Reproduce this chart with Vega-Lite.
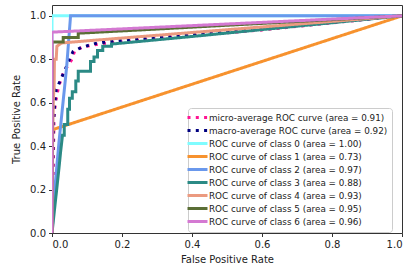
{
  "$schema": "https://vega.github.io/schema/vega-lite/v6.json",
  "width": 350,
  "height": 228,
  "autosize": "none",
  "padding": {"left": 52, "top": 5, "right": 7, "bottom": 37},
  "config": {
    "font": "DejaVu Sans",
    "view": {"stroke": "#333", "strokeWidth": 1},
    "axis": {"grid": false, "domain": false, "tickColor": "#333", "tickSize": 3.5, "labelFontSize": 10, "labelColor": "#222", "titleFontSize": 10, "titleFontWeight": "normal", "titleColor": "#222", "labelPadding": 3}
  },
  "data": {"values": [
    {"s": "micro-average ROC curve (area = 0.91)", "i": 0, "x": 0, "y": 0},
    {"s": "micro-average ROC curve (area = 0.91)", "i": 1, "x": 0.003, "y": 0.25},
    {"s": "micro-average ROC curve (area = 0.91)", "i": 2, "x": 0.005, "y": 0.45},
    {"s": "micro-average ROC curve (area = 0.91)", "i": 3, "x": 0.006, "y": 0.54},
    {"s": "micro-average ROC curve (area = 0.91)", "i": 4, "x": 0.01, "y": 0.6},
    {"s": "micro-average ROC curve (area = 0.91)", "i": 5, "x": 0.019, "y": 0.675},
    {"s": "micro-average ROC curve (area = 0.91)", "i": 6, "x": 0.033, "y": 0.74},
    {"s": "micro-average ROC curve (area = 0.91)", "i": 7, "x": 0.045, "y": 0.77},
    {"s": "micro-average ROC curve (area = 0.91)", "i": 8, "x": 0.057, "y": 0.8},
    {"s": "micro-average ROC curve (area = 0.91)", "i": 9, "x": 0.065, "y": 0.84},
    {"s": "micro-average ROC curve (area = 0.91)", "i": 10, "x": 0.09, "y": 0.858},
    {"s": "micro-average ROC curve (area = 0.91)", "i": 11, "x": 0.14, "y": 0.872},
    {"s": "micro-average ROC curve (area = 0.91)", "i": 12, "x": 0.3, "y": 0.895},
    {"s": "micro-average ROC curve (area = 0.91)", "i": 13, "x": 0.6, "y": 0.935},
    {"s": "micro-average ROC curve (area = 0.91)", "i": 14, "x": 1, "y": 1},
    {"s": "macro-average ROC curve (area = 0.92)", "i": 0, "x": 0, "y": 0},
    {"s": "macro-average ROC curve (area = 0.92)", "i": 1, "x": 0.002, "y": 0.3},
    {"s": "macro-average ROC curve (area = 0.92)", "i": 2, "x": 0.004, "y": 0.5},
    {"s": "macro-average ROC curve (area = 0.92)", "i": 3, "x": 0.008, "y": 0.6},
    {"s": "macro-average ROC curve (area = 0.92)", "i": 4, "x": 0.012, "y": 0.66},
    {"s": "macro-average ROC curve (area = 0.92)", "i": 5, "x": 0.023, "y": 0.7},
    {"s": "macro-average ROC curve (area = 0.92)", "i": 6, "x": 0.037, "y": 0.75},
    {"s": "macro-average ROC curve (area = 0.92)", "i": 7, "x": 0.05, "y": 0.8},
    {"s": "macro-average ROC curve (area = 0.92)", "i": 8, "x": 0.06, "y": 0.835},
    {"s": "macro-average ROC curve (area = 0.92)", "i": 9, "x": 0.084, "y": 0.855},
    {"s": "macro-average ROC curve (area = 0.92)", "i": 10, "x": 0.122, "y": 0.872},
    {"s": "macro-average ROC curve (area = 0.92)", "i": 11, "x": 0.165, "y": 0.882},
    {"s": "macro-average ROC curve (area = 0.92)", "i": 12, "x": 0.22, "y": 0.89},
    {"s": "macro-average ROC curve (area = 0.92)", "i": 13, "x": 0.56, "y": 0.935},
    {"s": "macro-average ROC curve (area = 0.92)", "i": 14, "x": 1, "y": 1},
    {"s": "ROC curve of class 0 (area = 1.00)", "i": 0, "x": 0, "y": 0},
    {"s": "ROC curve of class 0 (area = 1.00)", "i": 1, "x": 0, "y": 1},
    {"s": "ROC curve of class 0 (area = 1.00)", "i": 2, "x": 1, "y": 1},
    {"s": "ROC curve of class 1 (area = 0.73)", "i": 0, "x": 0, "y": 0},
    {"s": "ROC curve of class 1 (area = 0.73)", "i": 1, "x": 0, "y": 0.475},
    {"s": "ROC curve of class 1 (area = 0.73)", "i": 2, "x": 1, "y": 1},
    {"s": "ROC curve of class 2 (area = 0.97)", "i": 0, "x": 0, "y": 0},
    {"s": "ROC curve of class 2 (area = 0.97)", "i": 1, "x": 0.008, "y": 0.2},
    {"s": "ROC curve of class 2 (area = 0.97)", "i": 2, "x": 0.02, "y": 0.42},
    {"s": "ROC curve of class 2 (area = 0.97)", "i": 3, "x": 0.042, "y": 0.767},
    {"s": "ROC curve of class 2 (area = 0.97)", "i": 4, "x": 0.053, "y": 1},
    {"s": "ROC curve of class 2 (area = 0.97)", "i": 5, "x": 1, "y": 1},
    {"s": "ROC curve of class 3 (area = 0.88)", "i": 0, "x": 0, "y": 0},
    {"s": "ROC curve of class 3 (area = 0.88)", "i": 1, "x": 0.01, "y": 0.15},
    {"s": "ROC curve of class 3 (area = 0.88)", "i": 2, "x": 0.02, "y": 0.3},
    {"s": "ROC curve of class 3 (area = 0.88)", "i": 3, "x": 0.025, "y": 0.38},
    {"s": "ROC curve of class 3 (area = 0.88)", "i": 4, "x": 0.03, "y": 0.45},
    {"s": "ROC curve of class 3 (area = 0.88)", "i": 5, "x": 0.035, "y": 0.45},
    {"s": "ROC curve of class 3 (area = 0.88)", "i": 6, "x": 0.035, "y": 0.5},
    {"s": "ROC curve of class 3 (area = 0.88)", "i": 7, "x": 0.045, "y": 0.5},
    {"s": "ROC curve of class 3 (area = 0.88)", "i": 8, "x": 0.045, "y": 0.57},
    {"s": "ROC curve of class 3 (area = 0.88)", "i": 9, "x": 0.05, "y": 0.57},
    {"s": "ROC curve of class 3 (area = 0.88)", "i": 10, "x": 0.05, "y": 0.62},
    {"s": "ROC curve of class 3 (area = 0.88)", "i": 11, "x": 0.058, "y": 0.62},
    {"s": "ROC curve of class 3 (area = 0.88)", "i": 12, "x": 0.058, "y": 0.65},
    {"s": "ROC curve of class 3 (area = 0.88)", "i": 13, "x": 0.068, "y": 0.65},
    {"s": "ROC curve of class 3 (area = 0.88)", "i": 14, "x": 0.068, "y": 0.7},
    {"s": "ROC curve of class 3 (area = 0.88)", "i": 15, "x": 0.075, "y": 0.7},
    {"s": "ROC curve of class 3 (area = 0.88)", "i": 16, "x": 0.075, "y": 0.745},
    {"s": "ROC curve of class 3 (area = 0.88)", "i": 17, "x": 0.11, "y": 0.745},
    {"s": "ROC curve of class 3 (area = 0.88)", "i": 18, "x": 0.11, "y": 0.79},
    {"s": "ROC curve of class 3 (area = 0.88)", "i": 19, "x": 0.12, "y": 0.79},
    {"s": "ROC curve of class 3 (area = 0.88)", "i": 20, "x": 0.12, "y": 0.81},
    {"s": "ROC curve of class 3 (area = 0.88)", "i": 21, "x": 0.13, "y": 0.81},
    {"s": "ROC curve of class 3 (area = 0.88)", "i": 22, "x": 0.13, "y": 0.84},
    {"s": "ROC curve of class 3 (area = 0.88)", "i": 23, "x": 0.145, "y": 0.84},
    {"s": "ROC curve of class 3 (area = 0.88)", "i": 24, "x": 0.145, "y": 0.86},
    {"s": "ROC curve of class 3 (area = 0.88)", "i": 25, "x": 0.17, "y": 0.86},
    {"s": "ROC curve of class 3 (area = 0.88)", "i": 26, "x": 0.17, "y": 0.87},
    {"s": "ROC curve of class 3 (area = 0.88)", "i": 27, "x": 0.4, "y": 0.905},
    {"s": "ROC curve of class 3 (area = 0.88)", "i": 28, "x": 1, "y": 1},
    {"s": "ROC curve of class 4 (area = 0.93)", "i": 0, "x": 0, "y": 0},
    {"s": "ROC curve of class 4 (area = 0.93)", "i": 1, "x": 0.002, "y": 0.45},
    {"s": "ROC curve of class 4 (area = 0.93)", "i": 2, "x": 0.004, "y": 0.62},
    {"s": "ROC curve of class 4 (area = 0.93)", "i": 3, "x": 0.006, "y": 0.67},
    {"s": "ROC curve of class 4 (area = 0.93)", "i": 4, "x": 0.007, "y": 0.8},
    {"s": "ROC curve of class 4 (area = 0.93)", "i": 5, "x": 0.012, "y": 0.8},
    {"s": "ROC curve of class 4 (area = 0.93)", "i": 6, "x": 0.014, "y": 0.86},
    {"s": "ROC curve of class 4 (area = 0.93)", "i": 7, "x": 0.027, "y": 0.875},
    {"s": "ROC curve of class 4 (area = 0.93)", "i": 8, "x": 0.1, "y": 0.885},
    {"s": "ROC curve of class 4 (area = 0.93)", "i": 9, "x": 1, "y": 1},
    {"s": "ROC curve of class 5 (area = 0.95)", "i": 0, "x": 0, "y": 0},
    {"s": "ROC curve of class 5 (area = 0.95)", "i": 1, "x": 0, "y": 0.88},
    {"s": "ROC curve of class 5 (area = 0.95)", "i": 2, "x": 0.032, "y": 0.88},
    {"s": "ROC curve of class 5 (area = 0.95)", "i": 3, "x": 0.032, "y": 0.9},
    {"s": "ROC curve of class 5 (area = 0.95)", "i": 4, "x": 0.075, "y": 0.9},
    {"s": "ROC curve of class 5 (area = 0.95)", "i": 5, "x": 0.075, "y": 0.92},
    {"s": "ROC curve of class 5 (area = 0.95)", "i": 6, "x": 0.25, "y": 0.935},
    {"s": "ROC curve of class 5 (area = 0.95)", "i": 7, "x": 1, "y": 1},
    {"s": "ROC curve of class 6 (area = 0.96)", "i": 0, "x": 0, "y": 0},
    {"s": "ROC curve of class 6 (area = 0.96)", "i": 1, "x": 0, "y": 0.925},
    {"s": "ROC curve of class 6 (area = 0.96)", "i": 2, "x": 1, "y": 1}
  ]},
  "mark": {"type": "line", "clip": true, "strokeCap": "butt"},
  "encoding": {
    "x": {"field": "x", "type": "quantitative", "scale": {"domain": [0, 1], "nice": false}, "axis": {"values": [0, 0.2, 0.4, 0.6, 0.8, 1.0], "format": ".1f", "title": "False Positive Rate", "titlePadding": 5}},
    "y": {"field": "y", "type": "quantitative", "scale": {"domain": [0, 1.05], "nice": false, "zero": false}, "axis": {"values": [0, 0.2, 0.4, 0.6, 0.8, 1.0], "format": ".1f", "title": "True Positive Rate", "titlePadding": 8}},
    "order": {"field": "i", "type": "quantitative"},
    "color": {"field": "s", "type": "nominal", "scale": {
      "domain": ["micro-average ROC curve (area = 0.91)", "macro-average ROC curve (area = 0.92)", "ROC curve of class 0 (area = 1.00)", "ROC curve of class 1 (area = 0.73)", "ROC curve of class 2 (area = 0.97)", "ROC curve of class 3 (area = 0.88)", "ROC curve of class 4 (area = 0.93)", "ROC curve of class 5 (area = 0.95)", "ROC curve of class 6 (area = 0.96)"],
      "range": ["#ff1493", "#000080", "#7ffcff", "#f7922e", "#6a98ec", "#2b8a85", "#eb9a80", "#5a6e35", "#d479d2"]},
      "legend": {"title": null, "orient": "none", "legendX": 136, "legendY": 103, "labelFontSize": 8.8, "labelLimit": 300, "symbolType": "M-2.5,0H2.5", "symbolSize": 64, "fillColor": "white", "strokeColor": "#ccc", "cornerRadius": 3, "padding": 4, "rowPadding": 0, "labelOffset": 6, "labelColor": "#222"}},
    "strokeDash": {"field": "s", "type": "nominal", "scale": {
      "domain": ["micro-average ROC curve (area = 0.91)", "macro-average ROC curve (area = 0.92)", "ROC curve of class 0 (area = 1.00)", "ROC curve of class 1 (area = 0.73)", "ROC curve of class 2 (area = 0.97)", "ROC curve of class 3 (area = 0.88)", "ROC curve of class 4 (area = 0.93)", "ROC curve of class 5 (area = 0.95)", "ROC curve of class 6 (area = 0.96)"],
      "range": [[3, 5.3], [3, 5.3], [1, 0], [1, 0], [1, 0], [1, 0], [1, 0], [1, 0], [1, 0]]}},
    "strokeWidth": {"field": "s", "type": "nominal", "scale": {
      "domain": ["micro-average ROC curve (area = 0.91)", "macro-average ROC curve (area = 0.92)", "ROC curve of class 0 (area = 1.00)", "ROC curve of class 1 (area = 0.73)", "ROC curve of class 2 (area = 0.97)", "ROC curve of class 3 (area = 0.88)", "ROC curve of class 4 (area = 0.93)", "ROC curve of class 5 (area = 0.95)", "ROC curve of class 6 (area = 0.96)"],
      "range": [3, 3, 2, 2, 2, 2, 2, 2, 2]}}
  }
}
